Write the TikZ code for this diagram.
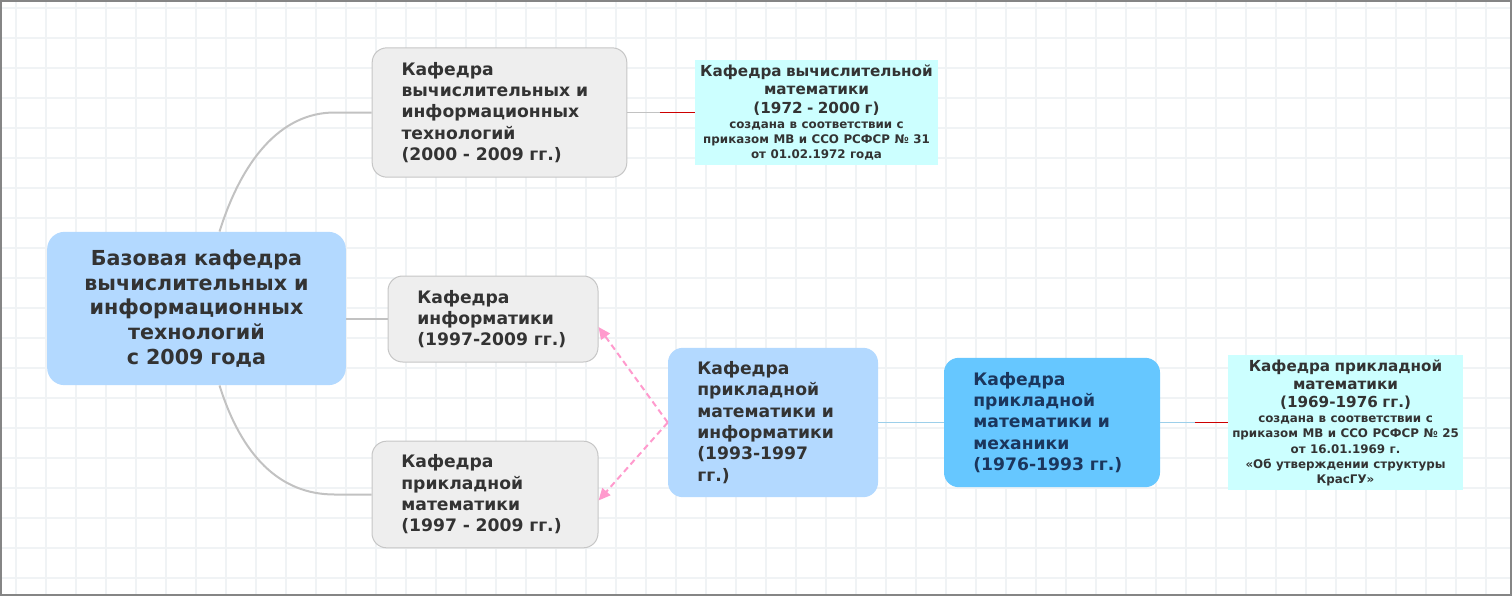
\documentclass[tikz,border=0pt]{standalone}
\usepackage{fontspec}
\setmainfont{DejaVu Sans}
\usetikzlibrary{arrows.meta, positioning, calc}
\definecolor{GridLine}{HTML}{F0F3F5}
\definecolor{FrameGray}{HTML}{858585}
\definecolor{RootBlue}{HTML}{B3D9FF}
\definecolor{DeepBlue}{HTML}{66C7FF}
\definecolor{BoxGray}{HTML}{EEEEEE}
\definecolor{BoxEdge}{HTML}{C6C6C6}
\definecolor{NoteCyan}{HTML}{CCFFFF}
\definecolor{TextGray}{HTML}{333333}
\definecolor{TextNavy}{HTML}{1B365D}
\definecolor{LinkGray}{HTML}{C2C2C2}
\definecolor{LinkBlue}{HTML}{9CCFEA}
\definecolor{LinkRed}{HTML}{CC0000}
\definecolor{LinkPink}{HTML}{FF9ACD}

\newcommand{\notetitle}{\bfseries\fontsize{11.4}{13.8}\selectfont}
\newcommand{\notesmall}{\bfseries\fontsize{8.9}{11.3}\selectfont}

\tikzset{
  dept/.style={rounded corners=11pt, align=left, text=TextGray, inner xsep=22pt, inner ysep=0pt,
    font=\bfseries\fontsize{12.9}{16}\selectfont},
  olddept/.style={dept, fill=BoxGray, draw=BoxEdge, line width=0.75pt},
  note/.style={fill=NoteCyan, align=center, text=TextGray, inner sep=0pt},
  trunk/.style={LinkGray, line width=1.5pt},
  twig/.style={LinkGray, line width=0.75pt},
  bluelink/.style={LinkBlue, line width=0.9pt},
  redlink/.style={LinkRed, line width=0.75pt},
  origin/.style={LinkPink, line width=1.5pt, dash pattern=on 4.5pt off 3pt,
    -{Triangle[length=9pt, width=8pt]}}
}

\begin{document}
\begin{tikzpicture}[x=0.75pt, y=-0.75pt]
                \useasboundingbox (0,0) rectangle (1512,596);

                % Background grid
                \foreach \gx in {16,46,...,1510} \draw[GridLine, line width=1pt] (\gx,0) -- (\gx,596);
                \foreach \gy in {8,38,...,590} \draw[GridLine, line width=1pt] (0,\gy) -- (1512,\gy);
                \draw[FrameGray, line width=1.5pt] (0.75,0.75) rectangle (1510.75,595.25);

                % Root department
                \node[dept, fill=RootBlue, rounded corners=13pt, align=center, inner xsep=8pt,
                      text width=208pt, minimum height=115pt, font=\bfseries\fontsize{15.5}{18.6}\selectfont]
                      (root) at (196.5,308.5)
                      {Базовая кафедра\\вычислительных и\\информационных\\технологий\\с 2009 года};

                % Departments 2000--2009
                \node[olddept, text width=147pt, minimum height=97pt] (A) at (499.5,112.5)
                      {Кафедра\\вычислительных и\\информационных\\технологий\\(2000 - 2009 гг.)};
                \node[olddept, text width=113.5pt, minimum height=64.5pt] (B) at (493,319)
                      {Кафедра\\информатики\\(1997-2009 гг.)};
                \node[olddept, text width=125.5pt, minimum height=80pt] (C) at (485,494.5)
                      {Кафедра\\прикладной\\математики\\(1997 - 2009 гг.)};

                % Earlier departments
                \node[dept, fill=RootBlue, text width=113.5pt, minimum height=112pt] (D) at (773,422.5)
                      {Кафедра\\прикладной\\математики и\\информатики\\(1993-1997\\гг.)};
                \node[dept, fill=DeepBlue, text=TextNavy, text width=118pt, minimum height=97pt] (E) at (1052,422.5)
                      {Кафедра\\прикладной\\математики и\\механики\\(1976-1993 гг.)};

                % Notes
                \node[note, text width=180pt, minimum width=182pt, minimum height=79pt] (noteA) at (816.5,112.5)
                      {{\notetitle Кафедра вычислительной\\математики\\(1972 - 2000 г)\par}
                       {\notesmall создана в соответствии с\\приказом МВ и ССО РСФСР № 31\\от 01.02.1972 года\par}};
                \node[note, text width=174pt, minimum width=176pt, minimum height=101pt] (noteE) at (1345.5,422.5)
                      {{\notetitle Кафедра прикладной\\математики\\(1969-1976 гг.)\par}
                       {\notesmall создана в соответствии с\\приказом МВ и ССО РСФСР № 25\\от 16.01.1969 г.\\«Об утверждении структуры\\КрасГУ»\par}};

                % Branches from the root
                \coordinate (kneeA) at ($(A.west)+(-37,0)$);
                \coordinate (kneeC) at ($(C.west)+(-37,0)$);
                \draw[trunk] ($(root.north)+(23,0)$) .. controls +(22,-70) and +(-55,0) .. (kneeA) -- (A.west);
                \draw[trunk] ($(root.south)+(23,0)$) .. controls +(22,70) and +(-55,0) .. (kneeC) -- (C.west);
                \draw[trunk] (root.east |- B.west) -- (B.west);

                % Note links
                \coordinate (tieA) at ($(noteA.west)+(-35,0)$);
                \coordinate (tieE) at ($(noteE.west)+(-33,0)$);
                \draw[twig] (A.east) -- (tieA);
                \draw[redlink] (tieA) -- (noteA.west);
                \draw[bluelink] (E.east) -- (tieE);
                \draw[redlink] (tieE) -- (noteE.west);

                % Lineage
                \draw[bluelink] (D.east) -- (E.west);
                \draw[origin] (D.west) -- ($(B.east)+(0,8)$);
                \draw[origin] (D.west) -- ($(C.east)+(0,6)$);
            \end{tikzpicture}
\end{document}
